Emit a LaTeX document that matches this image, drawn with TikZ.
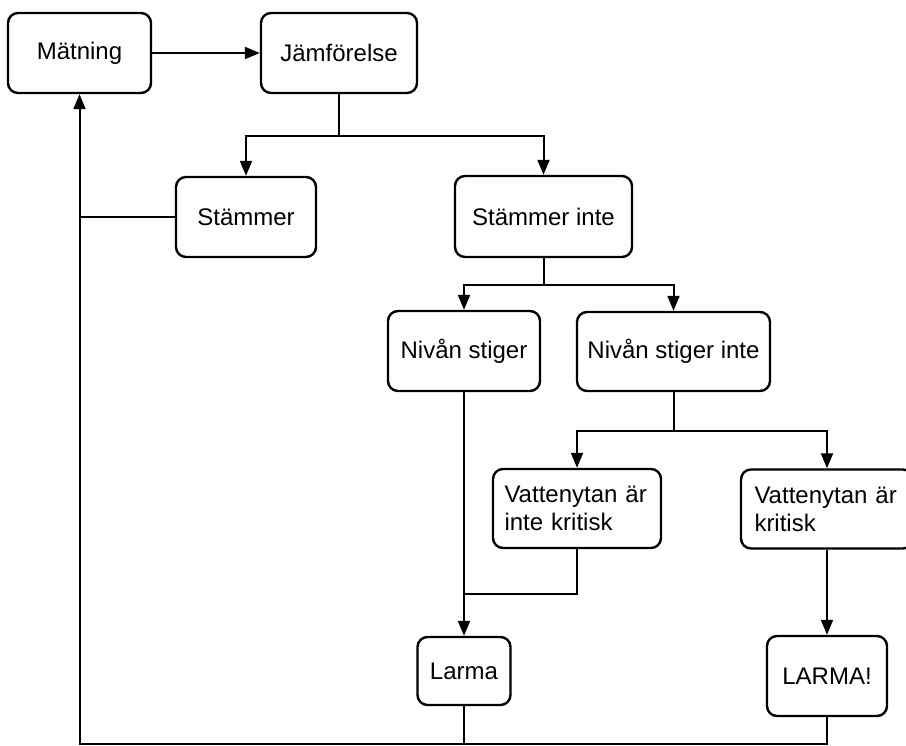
\documentclass[tikz,border=0pt]{standalone}
\usepackage{fontspec}
\setmainfont{Liberation Sans}
\usetikzlibrary{arrows.meta}

\begin{document}
\begin{tikzpicture}[x=1pt, y=-1pt,
                    boxnode/.style={draw, rounded corners=10pt, line width=2.4pt, font=\fontsize{24}{28}\selectfont, inner sep=0pt},
                    twonode/.style={boxnode, align=left, text width=145pt, minimum height=79pt},
                    flow/.style={line width=2pt, -{Triangle[length=15pt, width=12pt]}},
                    line/.style={line width=2pt},
                ]
                    \useasboundingbox (0,0) rectangle (906,746);

                    %Nodes
                    \node[boxnode, minimum width=143pt, minimum height=80pt](mat) at (79.5,53) {Mätning};
                    \node[boxnode, minimum width=156pt, minimum height=80pt](jmf) at (339,53) {Jämförelse};
                    \node[boxnode, minimum width=140pt, minimum height=80pt](stm) at (246,217) {Stämmer};
                    \node[boxnode, minimum width=177pt, minimum height=81pt](stmi) at (543.5,216.5) {Stämmer inte};
                    \node[boxnode, minimum width=152pt, minimum height=80pt](niv) at (464,351) {Nivån stiger};
                    \node[boxnode, minimum width=193pt, minimum height=79pt](nivi) at (673.5,351.5) {Nivån stiger inte};
                    \node[twonode, inner xsep=11.5pt](vik) at (577,508.5) {Vattenytan är\\inte kritisk};
                    \node[twonode, inner xsep=13.5pt](vk) at (827,509) {Vattenytan är\\kritisk};
                    \node[boxnode, minimum width=93pt, minimum height=68pt](larm) at (464,671) {Larma};
                    \node[boxnode, minimum width=120pt, minimum height=80pt](larmx) at (827,676) {LARMA!};
                    \coordinate (ret) at (79.5,744);

                    %Lines
                    \draw[flow](mat) -- (jmf);
                    \draw[flow](jmf.south) -- ++(0,42) -| (stm.north);
                    \draw[flow](jmf.south) -- ++(0,42) -| (stmi.north);
                    \draw[line](stm.west) -- (stm.west -| mat.south);
                    \draw[flow](stmi.south) -- ++(0,27) -| (niv.north);
                    \draw[flow](stmi.south) -- ++(0,27) -| (nivi.north);
                    \draw[flow](niv) -- (larm);
                    \draw[flow](nivi.south) -- ++(0,39) -| (vik.north);
                    \draw[flow](nivi.south) -- ++(0,39) -| (vk.north);
                    \draw[line](vik.south) -- ++(0,45) coordinate (vj) -- (vj -| niv.south);
                    \draw[flow](vk) -- (larmx);
                    \draw[line](larm.south) -- (larm.south |- ret);
                    \draw[flow](larmx.south) |- (ret) -- (mat.south);
                \end{tikzpicture}
\end{document}
